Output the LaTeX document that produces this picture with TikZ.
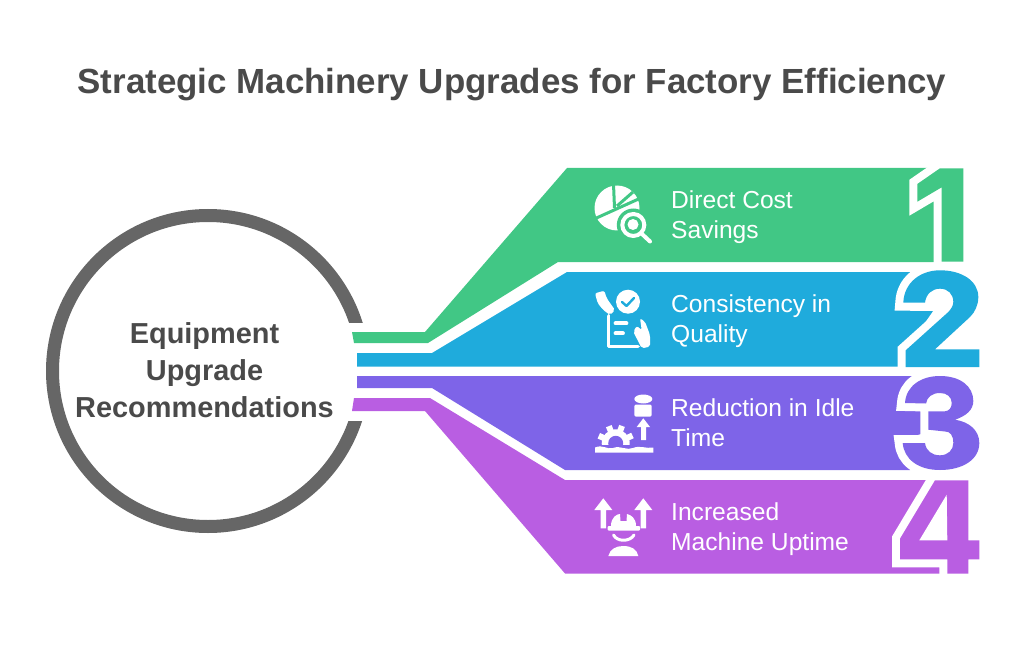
\documentclass[tikz,border=0pt]{standalone}
\usepackage{fontspec}
\setmainfont{Liberation Sans}
\definecolor{bandgreen}{HTML}{41C785}
\definecolor{bandblue}{HTML}{1FABDC}
\definecolor{bandviolet}{HTML}{7E64E8}
\definecolor{bandpink}{HTML}{B95EE2}
\definecolor{inkgrey}{HTML}{4A4A4A}
\definecolor{ringgrey}{HTML}{666666}
\begin{document}
\begin{tikzpicture}[x=1pt, y=-1pt,
                    digit/.style={preaction={draw=white, line width=16pt}},
                    label/.style={text=white, anchor=west, align=left, inner sep=0pt,
                                  font=\fontsize{24.6}{30}\selectfont},
                    icon/.style={white, line width=3.8pt, line cap=round, line join=round}]
\useasboundingbox (0,0) rectangle (1024,668);
\node[text=inkgrey, font=\fontsize{34.9}{40}\selectfont\bfseries, inner sep=0pt] (title) at (512,85) {Strategic Machinery Upgrades for Factory Efficiency};
\node[circle, draw=ringgrey, line width=13pt, minimum size=311pt, inner sep=0pt] (hub) at (208,371) {};
\node[text=inkgrey, align=center, inner sep=0pt, font=\fontsize{28.9}{37}\selectfont\bfseries] (hublabel) at (204.5,370.5) {Equipment\\Upgrade\\Recommendations};
\fill[white] (340,322.7) rectangle (375,421);
\fill[bandgreen] (352,332) -- (425,332) -- (567,168) -- (963.3,168) -- (963.3,262) -- (558,262) -- (428,343) -- (354,343) -- cycle;
\fill[bandblue] (357,353) -- (432,353) -- (567,272) -- (910,272) -- (910,311) -- (933,311) -- (906,350) -- (906,366.5) -- (357,366.5) -- cycle;
\fill[bandviolet] (357,376) -- (912,376) -- (906,400) -- (915,408) -- (924,412) -- (924,433) -- (905,439) -- (902,445) -- (910,470) -- (565,470) -- (432,388) -- (357,388) -- cycle;
\fill[bandpink] (354,398) -- (430,398) -- (565,480) -- (930,480) -- (895,535) -- (895,563) -- (941,563) -- (941,573.5) -- (565,573.5) -- (425,411) -- (352,411) -- cycle;
\fill[digit, bandgreen] (917.3,184) -- (940,168.3) -- (963.3,168.3) -- (963.3,261.7) -- (941.7,261.7) -- (941.7,187.3) -- (917.3,201.7) -- cycle;
\fill[digit, bandblue] (905.7,367) -- (905.7,350.3) -- (948.3,312) .. controls (951,309) and (953.3,306) .. (953.3,302) .. controls (953.3,294) and (948,288.7) .. (940,288.7) .. controls (932,288.7) and (926,294) .. (925,302.7) -- (903.3,302.7) .. controls (904,283) and (920,270.3) .. (940,270.3) .. controls (962,270.3) and (978.3,281) .. (978.3,297) .. controls (978.3,305) and (975,312) .. (970,317) -- (935,349.3) -- (979.3,349.3) -- (979.3,367) -- cycle;
\fill[digit, bandviolet] (905,403) .. controls (906,386) and (921,376) .. (940,376) .. controls (960,376) and (973.3,386) .. (973.3,401) .. controls (973.3,410) and (966,416) .. (955,419.7) .. controls (970,422) and (979.3,431) .. (979.3,443) .. controls (979.3,460) and (962,470) .. (940,470) .. controls (918,470) and (904,459) .. (902.7,443) -- (925,443) .. controls (926,451) and (932,455.3) .. (940,455.3) .. controls (948,455.3) and (953.3,450) .. (953.3,443) .. controls (953.3,435) and (950,431.5) .. (945,431.5) -- (928.3,429.7) -- (928.3,411.3) -- (945,411.3) .. controls (949,411) and (951.7,408) .. (951.7,403) .. controls (951.7,397) and (947,393) .. (940,393) .. controls (932,393) and (927,397) .. (926,403.5) -- cycle;
\fill[digit, bandpink] (935,480.3) -- (968.3,480.3) -- (968.3,540.3) -- (979.3,540.3) -- (979.3,559.3) -- (968.3,559.3) -- (968.3,573.7) -- (947.3,573.7) -- (947.3,559.3) -- (900,559.3) -- (900,538.7) -- cycle;
\fill[white] (946.7,494.7) -- (947.3,540.3) -- (919.3,540.3) -- cycle;
\node[label] (lab1) at (671,217) {Direct Cost\\Savings};
\node[label] (lab2) at (671,321) {Consistency in\\Quality};
\node[label] (lab3) at (671,423) {Reduction in Idle\\Time};
\node[label] (lab4) at (671,529) {Increased\\Machine Uptime};
% pie and lens
\fill[white] (617,208) circle (22.5pt);
\draw[bandgreen, line width=3pt] (613.5,184) -- (614.5,208);
\draw[bandgreen, line width=3pt] (617,206) -- (633,192);
\draw[bandgreen, line width=3pt] (592,220) -- (643,197);
\fill[bandgreen] (633.3,225) circle (16.5pt);
\draw[icon, line width=4pt] (633.3,225) circle (11pt);
\fill[white] (633,224.5) circle (5.5pt);
\draw[icon, line width=4pt] (642,234) -- (650,241.5);
% hands and sheet
\fill[white] (628,301.7) circle (12pt);
\draw[bandblue, line width=2.4pt, line cap=round, line join=round] (622,302) -- (626.5,306) -- (634,298);
\draw[icon] (608.5,316) -- (608.5,346.5) -- (638,346.5);
\draw[icon] (615.5,323.3) -- (626.5,323.3);
\draw[icon] (615.5,333.3) -- (623,333.3);
\fill[white, rounded corners=2pt] (595,293.3) -- (604.3,290.7) -- (606.7,298.3) -- (615,310) -- (610,315) -- (603.3,310) -- (597.7,303.3) -- cycle;
\fill[white, rounded corners=2pt] (640,318.3) -- (645,321.7) -- (650,335) -- (650,346.7) -- (641.7,348.3) -- (633.3,331.7) -- (636.7,326) -- (641.7,330) -- cycle;
% drum, arrow and gear
\fill[white] (643.3,399) ellipse [x radius=9pt, y radius=4.5pt];
\fill[white, rounded corners=2pt] (634.3,404.5) -- (651.7,404.5) -- (651.7,416.7) -- (634.3,416.7) -- cycle;
\fill[white] (643.3,418.3) -- (650,427) -- (646,427) -- (646,440) -- (641,440) -- (641,427) -- (636.7,427) -- cycle;
\fill[white] (615.7,443.3) circle (14pt);
\foreach \a in {25,70,112,156}
  \draw[white, line width=6pt] (615.7,443.3) -- ++(\a:18.5pt);
\fill[bandviolet] (615.7,443.3) circle (7.5pt);
\fill[bandviolet] (594,445) rectangle (638,460);
\fill[white] (595,452.5) -- (595,447.5) .. controls (603,444) and (607,450) .. (613,448) .. controls (620,445) and (627,451) .. (633,448) .. controls (640,445) and (646,449) .. (653.3,447.5) -- (653.3,452.5) -- cycle;
% arrows and hard hat
\fill[white] (603.3,498.3) -- (612.3,510) -- (606,510) -- (606,528.3) -- (600.7,528.3) -- (600.7,510) -- (594.3,510) -- cycle;
\fill[white] (643.3,498.3) -- (652.3,510) -- (646,510) -- (646,528.3) -- (640.7,528.3) -- (640.7,510) -- (634.3,510) -- cycle;
\fill[white] (611,526) .. controls (611,517) and (617,514) .. (620,514) -- (620.5,521) -- (626.5,521) -- (627,514) .. controls (631,515) and (636,518) .. (636,526) -- cycle;
\fill[white, rounded corners=1pt] (607.7,526) rectangle (640,530.5);
\draw[icon, line width=3pt] (613.5,535) .. controls (617,542) and (630,542) .. (634,535);
\fill[white] (608.3,556) .. controls (610,549) and (616,546) .. (623.3,546) .. controls (631,546) and (637,549) .. (638.3,556) -- cycle;
\end{tikzpicture}
\end{document}
